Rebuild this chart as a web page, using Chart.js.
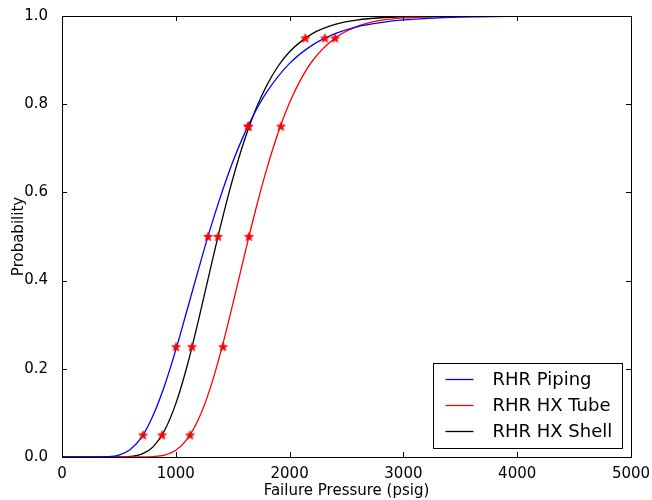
<!DOCTYPE html>
<html>
<head>
<meta charset="utf-8">
<script src="https://cdn.jsdelivr.net/npm/chart.js@4/dist/chart.umd.min.js"></script>
<style>
html,body{margin:0;padding:0;background:#fff;}
canvas{display:block;}
</style>
</head>
<body>
<canvas id="c" width="652" height="500"></canvas>
<script>
// ---- data ----
const seriesNames = ["RHR Piping", "RHR HX Tube", "RHR HX Shell"];
const seriesColors = ["#0000ff", "#ff0000", "#000000"];

const pipingX = [0, 300, 400, 500, 600, 700, 800, 900, 1000, 1100, 1200, 1300, 1400, 1500, 1600, 1700, 1800, 2000, 2200, 2400, 2600, 2800, 3000, 3500, 4000, 5000];
const pipingY = [0, 0.0000, 0.0006, 0.0043, 0.017, 0.045, 0.094, 0.161, 0.243, 0.334, 0.426, 0.515, 0.596, 0.669, 0.731, 0.784, 0.828, 0.8925, 0.934, 0.960, 0.976, 0.985, 0.991, 0.9975, 0.9993, 1.0];

const tubeX = [0, 700, 800, 900, 1000, 1100, 1200, 1300, 1400, 1500, 1600, 1700, 1800, 1900, 2000, 2100, 2200, 2400, 2600, 2800, 3000, 3500, 4000, 5000];
const tubeY = [0, 0.0001, 0.0009, 0.0044, 0.0154, 0.0406, 0.086, 0.154, 0.243, 0.346, 0.454, 0.559, 0.654, 0.736, 0.804, 0.857, 0.898, 0.950, 0.977, 0.990, 0.9956, 0.9995, 1.0, 1.0];

const shellX = [0, 500, 600, 700, 800, 900, 1000, 1100, 1200, 1300, 1400, 1500, 1600, 1700, 1800, 1900, 2000, 2200, 2400, 2600, 2800, 3000, 3500, 4000, 5000];
const shellY = [0, 0.0001, 0.0011, 0.0064, 0.023, 0.0595, 0.121, 0.207, 0.311, 0.422, 0.531, 0.630, 0.716, 0.787, 0.843, 0.8866, 0.919, 0.960, 0.981, 0.991, 0.996, 0.998, 0.9998, 1.0, 1.0];

const markerProbs = [0.05, 0.25, 0.5, 0.75, 0.95];
const pipingMarkX = [712, 1002, 1283, 1634, 2311];
const tubeMarkX = [1125, 1415, 1643, 1924, 2400];
const shellMarkX = [879, 1142, 1371, 1638, 2137];

const xTicks = [0, 1000, 2000, 3000, 4000, 5000];
const yTicks = [0.0, 0.2, 0.4, 0.6, 0.8, 1.0];

// ---- helpers ----
function zip(xs, ys) { return xs.map((x, i) => ({x: x, y: ys[i]})); }

function makeStar() {
  const s = 11, c = document.createElement('canvas');
  c.width = s; c.height = s;
  const g = c.getContext('2d');
  const cx = s / 2, cy = s / 2 + 0.4, R = 4.8, r = 2.1;
  g.beginPath();
  for (let i = 0; i < 10; i++) {
    const a = -Math.PI / 2 + i * Math.PI / 5;
    const rad = (i % 2 === 0) ? R : r;
    const px = cx + rad * Math.cos(a), py = cy + rad * Math.sin(a);
    if (i === 0) g.moveTo(px, py); else g.lineTo(px, py);
  }
  g.closePath();
  g.fillStyle = '#ff0000';
  g.fill();
  g.lineWidth = 0.6;
  g.strokeStyle = '#dd0000';
  g.stroke();
  return c;
}
const star = makeStar();

function lineDs(label, xs, ys, color) {
  return {
    label: label, data: zip(xs, ys), showLine: true, borderColor: color,
    backgroundColor: color, borderWidth: 1.3, pointRadius: 0, pointHoverRadius: 0,
    cubicInterpolationMode: 'monotone', fill: false, order: 2
  };
}
function markDs(xs) {
  return {
    label: '_marks', data: zip(xs, markerProbs), showLine: false,
    pointStyle: star, pointRadius: 5, borderColor: '#ff0000', backgroundColor: '#ff0000', order: 1
  };
}

const FONT = "'DejaVu Sans', sans-serif";

const framePlugin = {
  id: 'frame',
  afterDraw(chart) {
    const ctx = chart.ctx, a = chart.chartArea;
    const xs = chart.scales.x, ys = chart.scales.y;
    ctx.save();
    ctx.strokeStyle = '#000';
    ctx.lineWidth = 1;
    ctx.strokeRect(Math.round(a.left) + 0.5, Math.round(a.top) + 0.5, Math.round(a.right - a.left), Math.round(a.bottom - a.top));
    const tl = 5;
    ctx.beginPath();
    xTicks.forEach(v => {
      const px = Math.round(xs.getPixelForValue(v)) + 0.5;
      ctx.moveTo(px, a.bottom); ctx.lineTo(px, a.bottom - tl);
      ctx.moveTo(px, a.top); ctx.lineTo(px, a.top + tl);
    });
    yTicks.forEach(v => {
      const py = Math.round(ys.getPixelForValue(v)) + 0.5;
      ctx.moveTo(a.left, py); ctx.lineTo(a.left + tl, py);
      ctx.moveTo(a.right, py); ctx.lineTo(a.right - tl, py);
    });
    ctx.stroke();

    // legend (bottom-right, inside plot)
    const items = chart.data.datasets.filter(d => d.label !== '_marks');
    const w = 189, h = 85;
    const bx = Math.round(a.right - 9 - w) + 0.5, by = Math.round(a.bottom - 9 - h) + 0.5;
    ctx.fillStyle = '#fff';
    ctx.fillRect(bx, by, w, h);
    ctx.strokeStyle = '#000';
    ctx.lineWidth = 1;
    ctx.strokeRect(bx, by, w, h);
    ctx.font = "18px " + FONT;
    ctx.textBaseline = 'middle';
    items.forEach((d, i) => {
      const cy = by + 16 + i * 26;
      ctx.strokeStyle = d.borderColor;
      ctx.lineWidth = 1.3;
      ctx.beginPath();
      ctx.moveTo(bx + 12, cy); ctx.lineTo(bx + 40, cy);
      ctx.stroke();
      ctx.fillStyle = '#000';
      ctx.fillText(d.label, bx + 59, cy + 1);
    });
    ctx.restore();
  }
};

new Chart(document.getElementById('c'), {
  type: 'scatter',
  data: {
    datasets: [
      lineDs(seriesNames[0], pipingX, pipingY, seriesColors[0]),
      lineDs(seriesNames[1], tubeX, tubeY, seriesColors[1]),
      lineDs(seriesNames[2], shellX, shellY, seriesColors[2]),
      markDs(pipingMarkX),
      markDs(tubeMarkX),
      markDs(shellMarkX)
    ]
  },
  options: {
    responsive: false,
    animation: false,
    events: [],
    layout: {padding: {left: 0, right: 21, top: 16, bottom: 0}},
    plugins: {legend: {display: false}, tooltip: {enabled: false}},
    scales: {
      x: {
        type: 'linear', min: 0, max: 5000,
        afterBuildTicks(s) { s.ticks = xTicks.map(v => ({value: v})); },
        afterFit(s) { s.height = 43; s.paddingRight = 0; s.paddingLeft = 0; },
        grid: {display: false}, border: {display: false},
        ticks: {color: '#000', font: {family: FONT, size: 15, lineHeight: 1}, padding: 2, maxRotation: 0, callback: v => String(v)},
        title: {display: true, text: 'Failure Pressure (psig)', color: '#000', font: {family: FONT, size: 15}, padding: {top: 0, bottom: 0}}
      },
      y: {
        type: 'linear', min: 0, max: 1,
        afterBuildTicks(s) { s.ticks = yTicks.map(v => ({value: v})); },
        afterFit(s) { s.width = 62; s.paddingTop = 0; s.paddingBottom = 0; },
        grid: {display: false}, border: {display: false},
        ticks: {color: '#000', font: {family: FONT, size: 15}, padding: 6, callback: v => v.toFixed(1)},
        title: {display: true, text: 'Probability', color: '#000', font: {family: FONT, size: 15}, padding: {top: 10, bottom: 0}}
      }
    }
  },
  plugins: [framePlugin]
});
</script>
</body>
</html>
